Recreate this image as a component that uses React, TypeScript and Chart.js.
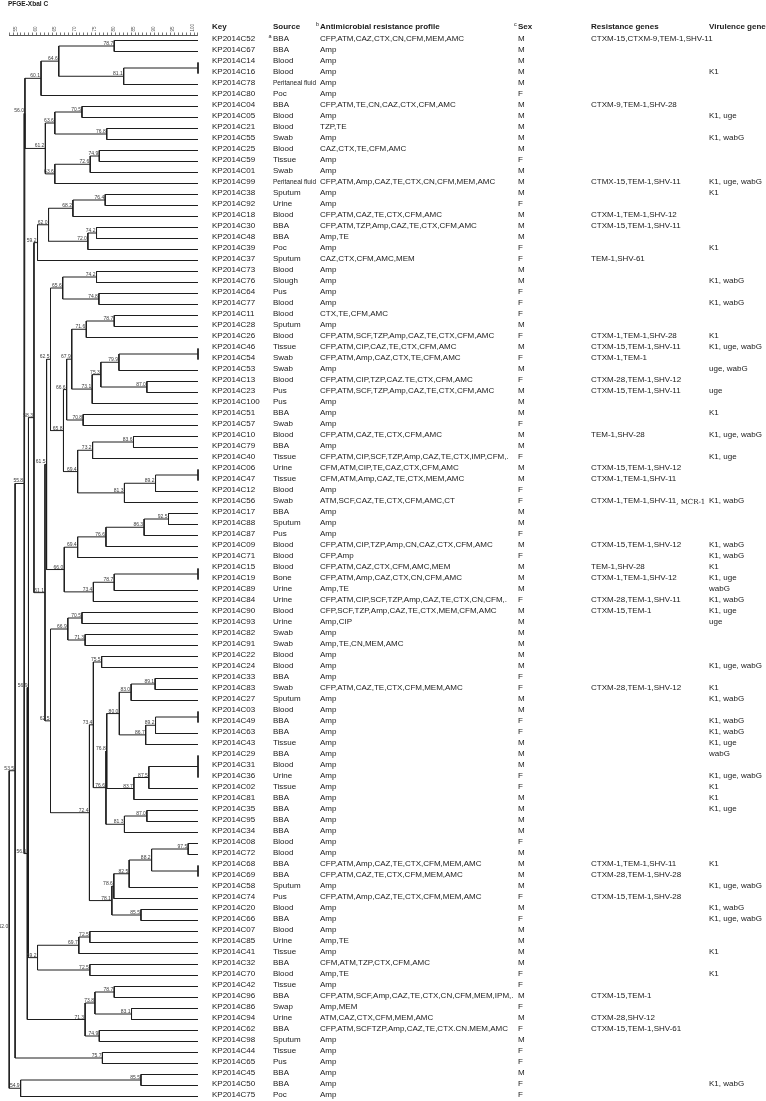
import React, { useEffect, useRef } from 'react';
import { Chart, registerables } from 'chart.js';

Chart.register(...registerables);

const title = 'PFGE-XbaI C';
const headers = ['Key', 'Source', 'Antimicrobial resistance profile', 'Sex', 'Resistance genes', 'Virulence genes'];
const headerMarks = ['', '', 'b', 'c', '', ''];
const xTickLabels = [55, 60, 65, 70, 75, 80, 85, 90, 95, 100];

const keys = [
  'KP2014C52', 'KP2014C67', 'KP2014C14', 'KP2014C16', 'KP2014C78', 'KP2014C80', 'KP2014C04', 'KP2014C05', 'KP2014C21', 'KP2014C55',
  'KP2014C25', 'KP2014C59', 'KP2014C01', 'KP2014C99', 'KP2014C38', 'KP2014C92', 'KP2014C18', 'KP2014C30', 'KP2014C48', 'KP2014C39',
  'KP2014C37', 'KP2014C73', 'KP2014C76', 'KP2014C64', 'KP2014C77', 'KP2014C11', 'KP2014C28', 'KP2014C26', 'KP2014C46', 'KP2014C54',
  'KP2014C53', 'KP2014C13', 'KP2014C23', 'KP2014C100', 'KP2014C51', 'KP2014C57', 'KP2014C10', 'KP2014C79', 'KP2014C40', 'KP2014C06',
  'KP2014C47', 'KP2014C12', 'KP2014C56', 'KP2014C17', 'KP2014C88', 'KP2014C87', 'KP2014C09', 'KP2014C71', 'KP2014C15', 'KP2014C19',
  'KP2014C89', 'KP2014C84', 'KP2014C90', 'KP2014C93', 'KP2014C82', 'KP2014C91', 'KP2014C22', 'KP2014C24', 'KP2014C33', 'KP2014C83',
  'KP2014C27', 'KP2014C03', 'KP2014C49', 'KP2014C63', 'KP2014C43', 'KP2014C29', 'KP2014C31', 'KP2014C36', 'KP2014C02', 'KP2014C81',
  'KP2014C35', 'KP2014C95', 'KP2014C34', 'KP2014C08', 'KP2014C72', 'KP2014C68', 'KP2014C69', 'KP2014C58', 'KP2014C74', 'KP2014C20',
  'KP2014C66', 'KP2014C07', 'KP2014C85', 'KP2014C41', 'KP2014C32', 'KP2014C70', 'KP2014C42', 'KP2014C96', 'KP2014C86', 'KP2014C94',
  'KP2014C62', 'KP2014C98', 'KP2014C44', 'KP2014C65', 'KP2014C45', 'KP2014C50', 'KP2014C75',
];

const sources = [
  'BBA', 'BBA', 'Blood', 'Blood', 'Peritaneal fluid', 'Poc', 'BBA', 'Blood', 'Blood', 'Swab',
  'Blood', 'Tissue', 'Swab', 'Peritaneal fluid', 'Sputum', 'Urine', 'Blood', 'BBA', 'BBA', 'Poc',
  'Sputum', 'Blood', 'Slough', 'Pus', 'Blood', 'Blood', 'Sputum', 'Blood', 'Tissue', 'Swab',
  'Swab', 'Blood', 'Pus', 'Pus', 'BBA', 'Swab', 'Blood', 'BBA', 'Tissue', 'Urine',
  'Tissue', 'Blood', 'Swab', 'BBA', 'Sputum', 'Pus', 'Blood', 'Blood', 'Blood', 'Bone',
  'Urine', 'Urine', 'Blood', 'Urine', 'Swab', 'Swab', 'Blood', 'Blood', 'BBA', 'Swab',
  'Sputum', 'Blood', 'BBA', 'BBA', 'Tissue', 'BBA', 'Blood', 'Urine', 'Tissue', 'BBA',
  'BBA', 'BBA', 'BBA', 'Blood', 'Blood', 'BBA', 'BBA', 'Sputum', 'Pus', 'Blood',
  'BBA', 'Blood', 'Urine', 'Tissue', 'BBA', 'Blood', 'Tissue', 'BBA', 'Swap', 'Urine',
  'BBA', 'Sputum', 'Tissue', 'Pus', 'BBA', 'BBA', 'Poc',
];
const sourceMarks = ['a'];

const profiles = [
  'CFP,ATM,CAZ,CTX,CN,CFM,MEM,AMC', 'Amp', 'Amp', 'Amp', 'Amp', 'Amp', 'CFP,ATM,TE,CN,CAZ,CTX,CFM,AMC', 'Amp', 'TZP,TE', 'Amp',
  'CAZ,CTX,TE,CFM,AMC', 'Amp', 'Amp', 'CFP,ATM,Amp,CAZ,TE,CTX,CN,CFM,MEM,AMC', 'Amp', 'Amp', 'CFP,ATM,CAZ,TE,CTX,CFM,AMC', 'CFP,ATM,TZP,Amp,CAZ,TE,CTX,CFM,AMC', 'Amp,TE', 'Amp',
  'CAZ,CTX,CFM,AMC,MEM', 'Amp', 'Amp', 'Amp', 'Amp', 'CTX,TE,CFM,AMC', 'Amp', 'CFP,ATM,SCF,TZP,Amp,CAZ,TE,CTX,CFM,AMC', 'CFP,ATM,CIP,CAZ,TE,CTX,CFM,AMC', 'CFP,ATM,Amp,CAZ,CTX,TE,CFM,AMC',
  'Amp', 'CFP,ATM,CIP,TZP,CAZ.TE,CTX,CFM,AMC', 'CFP,ATM,SCF,TZP,Amp,CAZ,TE,CTX,CFM,AMC', 'Amp', 'Amp', 'Amp', 'CFP,ATM,CAZ,TE,CTX,CFM,AMC', 'Amp', 'CFP,ATM,CIP,SCF,TZP,Amp,CAZ,TE,CTX,IMP,CFM,.', 'CFM,ATM,CIP,TE,CAZ,CTX,CFM,AMC',
  'CFM,ATM,Amp,CAZ,TE,CTX,MEM,AMC', 'Amp', 'ATM,SCF,CAZ,TE,CTX,CFM,AMC,CT', 'Amp', 'Amp', 'Amp', 'CFP,ATM,CIP,TZP,Amp,CN,CAZ,CTX,CFM,AMC', 'CFP,Amp', 'CFP,ATM,CAZ,CTX,CFM,AMC,MEM', 'CFP,ATM,Amp,CAZ,CTX,CN,CFM,AMC',
  'Amp,TE', 'CFP,ATM,CIP,SCF,TZP,Amp,CAZ,TE,CTX,CN,CFM,.', 'CFP,SCF,TZP,Amp,CAZ,TE,CTX,MEM,CFM,AMC', 'Amp,CIP', 'Amp', 'Amp,TE,CN,MEM,AMC', 'Amp', 'Amp', 'Amp', 'CFP,ATM,CAZ,TE,CTX,CFM,MEM,AMC',
  'Amp', 'Amp', 'Amp', 'Amp', 'Amp', 'Amp', 'Amp', 'Amp', 'Amp', 'Amp',
  'Amp', 'Amp', 'Amp', 'Amp', 'Amp', 'CFP,ATM,Amp,CAZ,TE,CTX,CFM,MEM,AMC', 'CFP,ATM,CAZ,TE,CTX,CFM,MEM,AMC', 'Amp', 'CFP,ATM,Amp,CAZ,TE,CTX,CFM,MEM,AMC', 'Amp',
  'Amp', 'Amp', 'Amp,TE', 'Amp', 'CFM,ATM,TZP,CTX,CFM,AMC', 'Amp,TE', 'Amp', 'CFP,ATM,SCF,Amp,CAZ,TE,CTX,CN,CFM,MEM,IPM,.', 'Amp,MEM', 'ATM,CAZ,CTX,CFM,MEM,AMC',
  'CFP,ATM,SCFTZP,Amp,CAZ,TE,CTX.CN.MEM,AMC', 'Amp', 'Amp', 'Amp', 'Amp', 'Amp', 'Amp',
];

const sexes = [
  'M', 'M', 'M', 'M', 'M', 'F', 'M', 'M', 'M', 'M',
  'M', 'F', 'M', 'M', 'M', 'F', 'M', 'M', 'M', 'F',
  'F', 'M', 'M', 'F', 'F', 'F', 'M', 'F', 'M', 'F',
  'M', 'F', 'M', 'M', 'M', 'F', 'M', 'M', 'F', 'M',
  'M', 'F', 'F', 'M', 'M', 'F', 'M', 'F', 'M', 'M',
  'M', 'F', 'M', 'M', 'M', 'M', 'M', 'M', 'F', 'F',
  'M', 'M', 'F', 'F', 'M', 'M', 'M', 'F', 'F', 'M',
  'M', 'M', 'M', 'F', 'M', 'M', 'M', 'M', 'F', 'M',
  'F', 'M', 'M', 'M', 'M', 'F', 'F', 'M', 'F', 'M',
  'F', 'M', 'F', 'F', 'M', 'F', 'F',
];

const resGenes = [
  'CTXM-15,CTXM-9,TEM-1,SHV-11', '', '', '', '', '', 'CTXM-9,TEM-1,SHV-28', '', '', '',
  '', '', '', 'CTMX-15,TEM-1,SHV-11', '', '', 'CTXM-1,TEM-1,SHV-12', 'CTXM-15,TEM-1,SHV-11', '', '',
  'TEM-1,SHV-61', '', '', '', '', '', '', 'CTXM-1,TEM-1,SHV-28', 'CTXM-15,TEM-1,SHV-11', 'CTXM-1,TEM-1',
  '', 'CTXM-28,TEM-1,SHV-12', 'CTXM-15,TEM-1,SHV-11', '', '', '', 'TEM-1,SHV-28', '', '', 'CTXM-15,TEM-1,SHV-12',
  'CTXM-1,TEM-1,SHV-11', '', 'CTXM-1,TEM-1,SHV-11', '', '', '', 'CTXM-15,TEM-1,SHV-12', '', 'TEM-1,SHV-28', 'CTXM-1,TEM-1,SHV-12',
  '', 'CTXM-28,TEM-1,SHV-11', 'CTXM-15,TEM-1', '', '', '', '', '', '', 'CTXM-28,TEM-1,SHV-12',
  '', '', '', '', '', '', '', '', '', '',
  '', '', '', '', '', 'CTXM-1,TEM-1,SHV-11', 'CTXM-28,TEM-1,SHV-28', '', 'CTXM-15,TEM-1,SHV-28', '',
  '', '', '', '', '', '', '', 'CTXM-15,TEM-1', '', 'CTXM-28,SHV-12',
  'CTXM-15,TEM-1,SHV-61', '', '', '', '', '', '',
];
const resExtra = { row: 42, text: ', MCR-1' };

const virGenes = [
  '', '', '', 'K1', '', '', '', 'K1, uge', '', 'K1, wabG',
  '', '', '', 'K1, uge, wabG', 'K1', '', '', '', '', 'K1',
  '', '', 'K1, wabG', '', 'K1, wabG', '', '', 'K1', 'K1, uge, wabG', '',
  'uge, wabG', '', 'uge', '', 'K1', '', 'K1, uge, wabG', '', 'K1, uge', '',
  '', '', 'K1, wabG', '', '', '', 'K1, wabG', 'K1, wabG', 'K1', 'K1, uge',
  'wabG', 'K1, wabG', 'K1, uge', 'uge', '', '', '', 'K1, uge, wabG', '', 'K1',
  'K1, wabG', '', 'K1, wabG', 'K1, wabG', 'K1, uge', 'wabG', '', 'K1, uge, wabG', 'K1', 'K1',
  'K1, uge', '', '', '', '', 'K1', '', 'K1, uge, wabG', '', 'K1, wabG',
  'K1, uge, wabG', '', '', 'K1', '', 'K1', '', '', '', '',
  '', '', '', '', '', 'K1, wabG', '',
];

// Dendrogram: [similarity %, ...children]; leaves are isolate ids
const tree: any = [52.0,
  [53.5,
    [55.8,
      [56.0,
        [60.1, [64.6, [78.7, 'C52', 'C67'], [81.1, [100, 'C14', 'C16'], 'C78']], 'C80'],
        [61.2, [63.6, [70.5, 'C04', 'C05'], [76.8, 'C21', 'C55']], [63.6, [72.6, [74.9, 'C25', 'C59'], 'C01'], 'C99']],
      ],
      [56.6,
        [56.9,
          [58.3,
            [59.2, [62.0, [68.2, [76.4, 'C38', 'C92'], 'C18'], [72.0, [74.2, 'C30', 'C48'], 'C39']], 'C37'],
            [61.1,
              [61.5,
                [62.5,
                  [65.6, [74.2, 'C73', 'C76'], [74.8, 'C64', 'C77']],
                  [65.8,
                    [66.6,
                      [67.9, [71.6, [78.7, 'C11', 'C28'], 'C26'], [73.1, [75.3, [79.9, [100, 'C46', 'C54'], 'C53'], [87.0, 'C13', 'C23']], 'C100']],
                      [70.8, 'C51', 'C57']],
                    [69.4, [73.2, [83.6, 'C10', 'C79'], 'C40'], [81.3, [89.2, [100, 'C06', 'C47'], 'C12'], 'C56']],
                  ],
                ],
                [66.0,
                  [69.4, [76.6, [86.3, [92.5, 'C17', 'C88'], 'C87'], 'C09'], 'C71'],
                  [73.4, [78.7, [100, 'C15', 'C19'], 'C89'], 'C84'],
                ],
              ],
              [62.5,
                [66.9, [70.5, 'C90', 'C93'], [71.3, 'C82', 'C91']],
                [72.4,
                  [73.4,
                    [75.5, 'C22', 'C24'],
                    [76.6,
                      [76.8,
                        [80.0, [83.0, [89.1, 'C33', 'C83'], 'C27'], [86.7, [89.2, [100, 'C03', 'C49'], 'C63'], 'C43']],
                        [83.7, [87.5, [100, 'C29', 'C31', 'C36'], 'C02'], 'C81']],
                      [81.3, [87.0, 'C35', 'C95'], 'C34'],
                    ],
                  ],
                  [78.1, [78.6, [82.5, [88.2, [97.5, 'C08', 'C72'], [100, 'C68', 'C69']], 'C58'], 'C74'], [85.5, 'C20', 'C66']],
                ],
              ],
            ],
          ],
          [59.2, [69.7, [72.5, 'C07', 'C85'], 'C41'], [72.5, 'C32', 'C70']],
        ],
        [71.3, [73.8, [78.7, 'C42', 'C96'], [83.1, 'C86', 'C94']], [74.9, 'C62', 'C98']],
      ],
    ],
    [75.7, 'C44', 'C65'],
  ],
  [54.9, [85.5, 'C45', 'C50'], 'C75'],
];

const FONT = '"Liberation Sans", Arial, Helvetica, sans-serif';
const COL_X = [212, 273, 320, 518, 591, 709];

function buildDendro() {
  const segs: { x: number; y: number }[][] = [];
  const labs: { v: number; y: number }[] = [];
  const walk = (n: any): { v: number; m: number } => {
    if (typeof n === 'string') return { v: 100, m: keys.indexOf('KP2014' + n) };
    const v = n[0] as number;
    const kids = n.slice(1).map(walk);
    const a = kids[0];
    const b = kids[kids.length - 1];
    segs.push([{ x: a.v, y: a.m }, { x: v, y: a.m }, { x: v, y: b.m }, { x: b.v, y: b.m }]);
    for (let k = 1; k < kids.length - 1; k++) {
      segs.push([{ x: v, y: kids[k].m }, { x: kids[k].v, y: kids[k].m }]);
    }
    const m = (a.m + b.m) / 2;
    if (v < 100) labs.push({ v, y: m });
    return { v, m };
  };
  walk(tree);
  return { segs, labs };
}

export default function App() {
  const ref = useRef<HTMLCanvasElement>(null);
  useEffect(() => {
    const { segs, labs } = buildDendro();
    const tablePlugin = {
      id: 'tablePlugin',
      afterDraw(chart: any) {
        const ctx = chart.ctx as CanvasRenderingContext2D;
        const xs = chart.scales.x;
        const ys = chart.scales.y;
        ctx.save();
        // title
        ctx.fillStyle = '#222';
        ctx.font = `bold 6.5px ${FONT}`;
        ctx.textAlign = 'left';
        ctx.textBaseline = 'top';
        ctx.fillText(title, 8, 0.5);
        // node labels
        ctx.font = `5px ${FONT}`;
        ctx.fillStyle = '#3a3a3a';
        ctx.textAlign = 'right';
        ctx.textBaseline = 'alphabetic';
        for (const l of labs) {
          ctx.fillText(l.v.toFixed(1), xs.getPixelForValue(l.v) - 1, ys.getPixelForValue(l.y) - 1);
        }
        // table
        const rowY = (i: number) => ys.getPixelForValue(i) - 1.5;
        ctx.textAlign = 'left';
        ctx.textBaseline = 'middle';
        const hy = rowY(-1) - 1;
        headers.forEach((h, c) => {
          ctx.font = `bold 8px ${FONT}`;
          ctx.fillStyle = '#1a1a1a';
          ctx.fillText(h, COL_X[c], hy);
          if (headerMarks[c]) {
            ctx.font = `5.5px ${FONT}`;
            ctx.fillText(headerMarks[c], COL_X[c] - 4, hy - 3);
          }
        });
        ctx.fillStyle = '#1a1a1a';
        const srcMax = COL_X[2] - COL_X[1] - 4;
        for (let i = 0; i < keys.length; i++) {
          const y = rowY(i);
          ctx.font = `8px ${FONT}`;
          ctx.fillText(keys[i], COL_X[0], y);
          const sw = ctx.measureText(sources[i]).width;
          if (sw > srcMax) ctx.fillText(sources[i], COL_X[1], y, srcMax);
          else ctx.fillText(sources[i], COL_X[1], y);
          ctx.fillText(profiles[i], COL_X[2], y);
          ctx.fillText(sexes[i], COL_X[3], y);
          if (resGenes[i]) ctx.fillText(resGenes[i], COL_X[4], y);
          if (virGenes[i]) ctx.fillText(virGenes[i], COL_X[5], y);
          if (i === resExtra.row) {
            const w = ctx.measureText(resGenes[i]).width;
            ctx.font = `7px "DejaVu Serif", serif`;
            ctx.fillText(resExtra.text, COL_X[4] + w, y + 1.5);
          }
          if (i === 0 && sourceMarks[0]) {
            ctx.font = `5.5px ${FONT}`;
            ctx.fillText(sourceMarks[0], COL_X[1] - 4.5, y - 3);
          }
        }
        ctx.restore();
      },
    };
    const chart = new Chart(ref.current as HTMLCanvasElement, {
      type: 'scatter',
      data: {
        datasets: segs.map((pts) => ({
          data: pts,
          showLine: true,
          borderColor: '#1e1e1e',
          borderWidth: 1,
          pointRadius: 0,
          pointHoverRadius: 0,
          tension: 0,
          fill: false,
          clip: false as any,
        })),
      },
      options: {
        animation: false,
        responsive: false,
        maintainAspectRatio: false,
        events: [],
        layout: { padding: { left: 9.2, right: 568, top: 0, bottom: 1 } },
        plugins: { legend: { display: false }, tooltip: { enabled: false } },
        scales: {
          x: {
            type: 'linear',
            position: 'top',
            min: 52,
            max: 100,
            afterFit: (s: any) => { s.height = 35; },
            ticks: {
              stepSize: 1,
              maxTicksLimit: 100,
              autoSkip: false,
              minRotation: 90,
              maxRotation: 90,
              padding: 1,
              color: '#555',
              font: { size: 4.5, family: FONT },
              callback: (v: any) => (xTickLabels.includes(Number(v)) ? String(v) : ''),
            },
            grid: { display: true, drawOnChartArea: false, drawTicks: true, tickLength: 2.5, color: '#555', lineWidth: 0.8 },
            border: { display: true, color: '#555', width: 1 },
          },
          y: { type: 'linear', display: false, reverse: true, min: -0.5, max: 96.318 },
        },
      } as any,
      plugins: [tablePlugin],
    });
    return () => chart.destroy();
  }, []);
  return (
    <div style={{ position: 'absolute', left: 0, top: 0, width: 766, height: 1101, background: '#fff' }}>
      <canvas ref={ref} width={766} height={1101} style={{ display: 'block' }} />
    </div>
  );
}
